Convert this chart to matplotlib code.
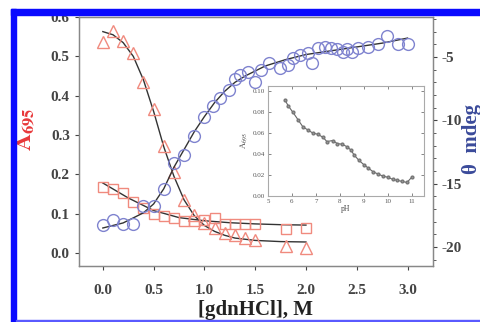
import matplotlib
matplotlib.use("Agg")
import matplotlib.pyplot as plt
from matplotlib.patches import Rectangle
from matplotlib.ticker import MultipleLocator

# ==========================
# Data
# ==========================

# A695 triangles
tri_x = [0.0, 0.1, 0.2, 0.3, 0.4, 0.5, 0.6, 0.7, 0.8, 0.9, 1.0, 1.1, 1.2, 1.3, 1.4, 1.5, 1.8, 2.0]
tri_y = [0.537, 0.565, 0.539, 0.509, 0.435, 0.366, 0.272, 0.205, 0.135, 0.097, 0.076, 0.064,
         0.051, 0.046, 0.038, 0.032, 0.018, 0.012]
tri_fit_x = [0.0, 0.1, 0.2, 0.3, 0.4, 0.5, 0.6, 0.7, 0.8, 0.9, 1.0, 1.1, 1.2, 1.3, 1.5, 1.75, 2.0]
tri_fit_y = [0.563, 0.555, 0.535, 0.500, 0.440, 0.360, 0.270, 0.195, 0.135, 0.095, 0.070,
             0.055, 0.045, 0.038, 0.032, 0.029, 0.028]

# A695 squares
sq_x = [0.0, 0.1, 0.2, 0.3, 0.4, 0.5, 0.6, 0.7, 0.8, 0.9, 1.0, 1.1, 1.2, 1.3, 1.4, 1.5, 1.8, 2.0]
sq_y = [0.168, 0.163, 0.153, 0.130, 0.115, 0.100, 0.095, 0.088, 0.082, 0.082, 0.085, 0.090,
        0.075, 0.075, 0.075, 0.075, 0.062, 0.064]
sq_fit_x = [0.0, 0.25, 0.5, 0.75, 1.0, 1.25, 1.5, 1.75, 2.0]
sq_fit_y = [0.178, 0.140, 0.108, 0.090, 0.082, 0.077, 0.074, 0.072, 0.071]

# CD signal circles (right axis)
cir_x = [0.0, 0.1, 0.2, 0.3, 0.4, 0.5, 0.6, 0.7, 0.8, 0.9, 1.0, 1.08, 1.15, 1.24, 1.30, 1.35,
         1.43, 1.50, 1.56, 1.64, 1.74, 1.82, 1.87, 1.94, 2.02, 2.06, 2.12, 2.19, 2.25, 2.31,
         2.36, 2.40, 2.45, 2.51, 2.61, 2.71, 2.80, 2.91, 3.0]
cir_y = [-18.3, -17.9, -18.2, -18.2, -16.8, -16.8, -15.4, -13.4, -12.7, -11.2, -9.7, -8.9,
         -8.2, -7.6, -6.7, -6.4, -6.2, -7.0, -6.0, -5.5, -5.9, -5.6, -5.1, -4.8, -4.7, -5.5,
         -4.3, -4.2, -4.3, -4.4, -4.6, -4.4, -4.6, -4.3, -4.2, -4.0, -3.3, -4.0, -4.0]
cir_fit_x = [0.0, 0.2, 0.4, 0.5, 0.6, 0.7, 0.8, 0.9, 1.0, 1.1, 1.2, 1.3, 1.4, 1.6, 1.8, 2.0,
             2.25, 2.5, 2.75, 3.0]
cir_fit_y = [-18.5, -18.1, -17.3, -16.6, -15.4, -13.7, -12.3, -10.9, -9.7, -8.6, -7.7, -7.0,
             -6.5, -5.7, -5.2, -4.8, -4.5, -4.2, -3.9, -3.5]

# inset: A695 vs pH
ph = [5.7, 5.85, 6.04, 6.25, 6.46, 6.67, 6.88, 7.08, 7.3, 7.46, 7.7, 7.9, 8.1, 8.3, 8.46,
      8.6, 8.8, 9.0, 9.17, 9.4, 9.6, 9.8, 10.0, 10.2, 10.4, 10.6, 10.8, 11.0]
a_ph = [0.092, 0.086, 0.080, 0.073, 0.066, 0.063, 0.060, 0.059, 0.056, 0.052, 0.053, 0.050,
        0.0495, 0.047, 0.044, 0.039, 0.034, 0.030, 0.027, 0.023, 0.021, 0.019, 0.018, 0.016,
        0.015, 0.014, 0.013, 0.018]

# ==========================
# Styling
# ==========================

red = "#f08a7e"
blue = "#7f83cf"
line_col = "#333333"
tick_col = "#444444"

plt.rcParams["font.family"] = ["Liberation Serif", "DejaVu Serif"]
plt.rcParams["mathtext.fontset"] = "stix"
plt.rcParams["axes.unicode_minus"] = False

fig = plt.figure(figsize=(4.81, 3.22), dpi=100)

ax = fig.add_axes([0.164, 0.174, 0.736, 0.773])
ax2 = ax.twinx()

# left axis series
ax.plot(tri_fit_x, tri_fit_y, color=line_col, lw=1.0, zorder=3)
ax.plot(sq_fit_x, sq_fit_y, color=line_col, lw=1.0, zorder=3)
ax.plot(tri_x, tri_y, ls="none", marker="^", ms=8, mfc="none", mec=red, mew=1.0, zorder=4)
ax.plot(sq_x, sq_y, ls="none", marker="s", ms=7.5, mfc="none", mec=red, mew=1.0, zorder=4)

# right axis series
ax2.plot(cir_fit_x, cir_fit_y, color=line_col, lw=1.0, zorder=3)
ax2.plot(cir_x, cir_y, ls="none", marker="o", ms=8.5, mfc="none", mec=blue, mew=1.0, zorder=4)

ax.set_xlim(-0.236, 3.25)
ax.set_ylim(-0.033, 0.6)
ax2.set_ylim(-21.5, -1.84)

ax.set_xticks([0.0, 0.5, 1.0, 1.5, 2.0, 2.5, 3.0])
ax.set_yticks([0.0, 0.1, 0.2, 0.3, 0.4, 0.5, 0.6])
ax.xaxis.set_major_formatter(plt.FormatStrFormatter("%.1f"))
ax.yaxis.set_major_formatter(plt.FormatStrFormatter("%.1f"))
ax2.set_yticks([-20, -15, -10, -5])
ax2.yaxis.set_minor_locator(MultipleLocator(1))

for a in (ax, ax2):
    for s in a.spines.values():
        s.set_color("#888888")
        s.set_linewidth(0.9)
    a.tick_params(colors=tick_col, labelsize=11, width=0.8, length=3, direction="out")
    for lab in a.get_xticklabels() + a.get_yticklabels():
        lab.set_fontweight("bold")
ax2.tick_params(which="minor", length=2, width=0.6, colors=tick_col)
ax.tick_params(axis="x", pad=10)

ax.set_xlabel("[gdnHCl], M", fontsize=15, fontweight="bold", color="#222222", labelpad=2)
fig.text(0.052, 0.60, r"$\mathbf{A}_{\mathbf{695}}$", rotation=90, color="#e8383a",
         fontsize=17, ha="center", va="center")
fig.text(0.982, 0.57, "θ  mdeg", rotation=90, color="#3a4a9a", fontsize=15,
         fontweight="bold", ha="center", va="center")

# ==========================
# Inset
# ==========================

ins = fig.add_axes([0.557, 0.391, 0.324, 0.342])
ins.plot(ph, a_ph, color="#666666", lw=0.8, marker="o", ms=2, mfc="#999999", mec="#777777")
ins.set_xlim(5, 11.5)
ins.set_ylim(0, 0.105)
ins.set_xticks([5, 6, 7, 8, 9, 10, 11])
ins.set_yticks([0.0, 0.02, 0.04, 0.06, 0.08, 0.10])
ins.yaxis.set_major_formatter(plt.FormatStrFormatter("%.2f"))
ins.tick_params(labelsize=5, colors="#555555", direction="in", length=2, width=0.5,
                top=True, right=True, pad=2)
for s in ins.spines.values():
    s.set_color("#aaaaaa")
    s.set_linewidth(0.8)
ins.set_xlabel("pH", fontsize=5.5, color="#444444", labelpad=1)
ins.set_ylabel(r"$\mathrm{A}_{695}$", fontsize=6, color="#444444", labelpad=2)

# ==========================
# Blue frame of the clipping
# ==========================

fig.patches.append(Rectangle((11 / 481, 0), 5 / 481, 313 / 322, transform=fig.transFigure,
                             color="#0a0aff", zorder=10))
fig.patches.append(Rectangle((11 / 481, 307 / 322), 470 / 481, 6 / 322, transform=fig.transFigure,
                             color="#0a0aff", zorder=10))
fig.patches.append(Rectangle((16 / 481, 1 / 322), 465 / 481, 1.5 / 322, transform=fig.transFigure,
                             color="#5a5aff", zorder=10))

fig.savefig("out.png", dpi=100)
